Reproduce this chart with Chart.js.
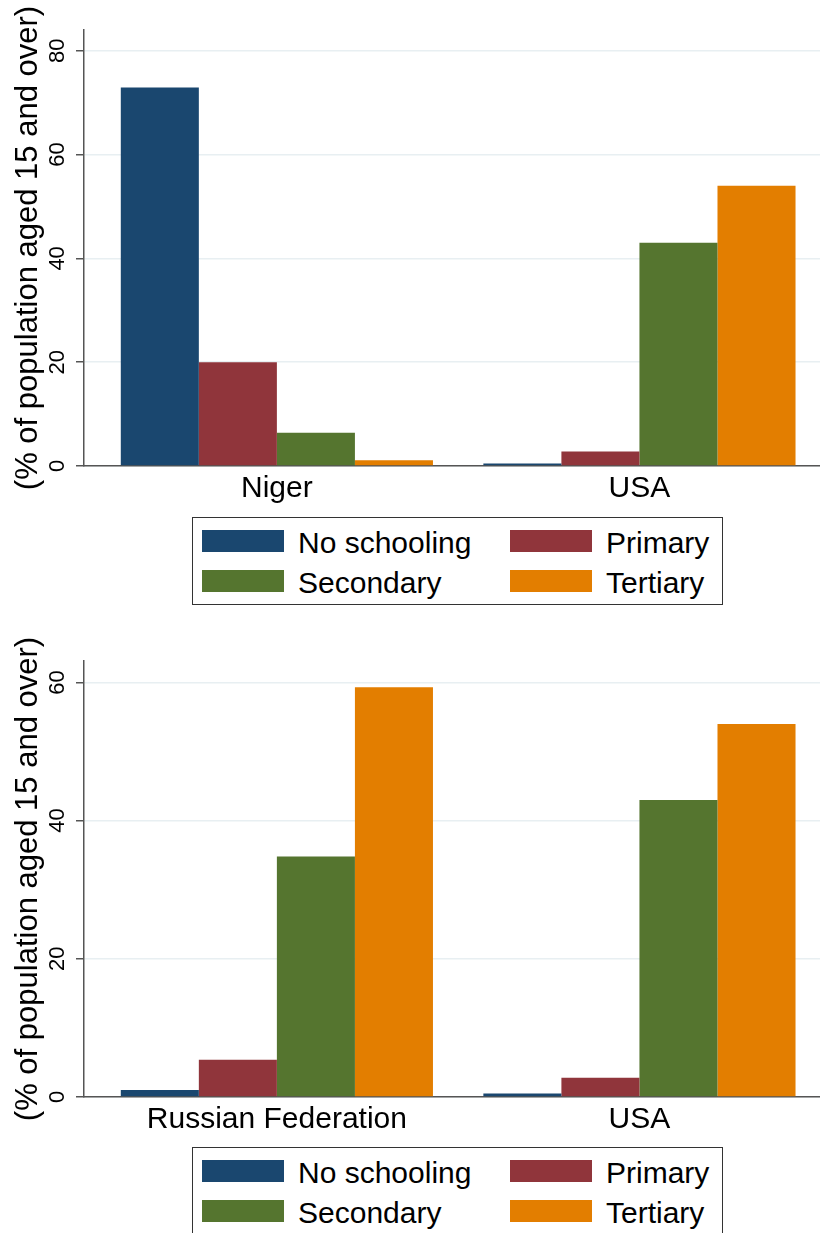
<!DOCTYPE html>
<html>
<head>
<meta charset="utf-8">
<script src="https://cdn.jsdelivr.net/npm/chart.js@4/dist/chart.umd.min.js"></script>
<style>
  html, body { margin: 0; padding: 0; background: #fff; }
  #page { position: relative; width: 820px; height: 1233px; overflow: hidden; background: #fff;
          font-family: "Liberation Sans", Arial, sans-serif; }
  .wrap { position: absolute; left: 0; width: 820px; }
  .legend { position: absolute; left: 192px; width: 531px; border: 1px solid #333; box-sizing: border-box; background: #fff; }
  .item { position: absolute; display: flex; align-items: center; font-size: 30px; color: #000; white-space: nowrap; }
  .swatch { width: 82px; height: 22px; margin-right: 14px; }
  .item span { position: relative; top: 2px; }
</style>
</head>
<body>
<div id="page">
  <div class="wrap" style="top:0;height:510px"><canvas id="top"></canvas></div>
  <div class="legend" id="legTop" style="top:517px;height:88px"></div>
  <div class="wrap" style="top:620px;height:520px"><canvas id="bottom"></canvas></div>
  <div class="legend" id="legBottom" style="top:1147px;height:88px"></div>
</div>
<script>
// Educational attainment, % of population aged 15 and over
const levels = ['No schooling', 'Primary', 'Secondary', 'Tertiary'];
const levelColors = ['#1a476f', '#90353b', '#55752f', '#e37e00'];

const countriesTop = ['Niger', 'USA'];
const noSchoolingTop = [72.9, 0.5];
const primaryTop = [20.0, 2.8];
const secondaryTop = [6.4, 43.0];
const tertiaryTop = [1.1, 54.0];
const yTicksTop = [0, 20, 40, 60, 80];

const countriesBottom = ['Russian Federation', 'USA'];
const noSchoolingBottom = [1.0, 0.5];
const primaryBottom = [5.4, 2.8];
const secondaryBottom = [34.8, 43.0];
const tertiaryBottom = [59.3, 54.0];
const yTicksBottom = [0, 20, 40, 60];

const yTitle = '(% of population aged 15 and over)';
const FONT = '"Liberation Sans", Arial, sans-serif';

// Rotated y tick labels, reading bottom to top
const rotatedTicks = {
  id: 'rotatedTicks',
  afterDraw(chart) {
    const s = chart.scales.y, ctx = chart.ctx;
    ctx.save();
    ctx.fillStyle = '#000';
    ctx.font = '22px ' + FONT;
    ctx.textAlign = 'center';
    ctx.textBaseline = 'middle';
    s.ticks.forEach(t => {
      const py = s.getPixelForValue(t.value);
      ctx.save();
      ctx.translate(58, py);
      ctx.rotate(-Math.PI / 2);
      ctx.fillText(String(t.value), 0, 0);
      ctx.restore();
    });
    ctx.restore();
  }
};

function makeChart(id, countries, series, yTicks, yMax, padTop, xHeight) {
  const datasets = series.map((vals, k) => ({
    label: levels[k],
    data: vals.map((v, i) => ({ x: i, y: v })),
    backgroundColor: levelColors[k],
    borderWidth: 0,
    categoryPercentage: 0.861,
    barPercentage: 1.0
  }));
  const canvas = document.getElementById(id);
  const h = canvas.parentNode.clientHeight;
  canvas.style.width = '820px';
  canvas.style.height = h + 'px';
  return new Chart(canvas, {
    type: 'bar',
    data: { datasets },
    plugins: [rotatedTicks],
    options: {
      responsive: false,
      maintainAspectRatio: false,
      animation: false,
      devicePixelRatio: 1,
      layout: { padding: { top: padTop, left: 0, right: 0, bottom: 0 } },
      plugins: { legend: { display: false }, tooltip: { enabled: false } },
      scales: {
        x: {
          type: 'linear',
          offset: false,
          min: -0.532,
          max: 1.498,
          afterBuildTicks: s => { s.ticks = countries.map((c, i) => ({ value: i })); },
          afterFit: s => { s.height = xHeight; },
          grid: { display: false, drawTicks: false, offset: false },
          border: { display: true, color: '#555', width: 1.5 },
          ticks: {
            color: '#000',
            font: { family: FONT, size: 30 },
            padding: 5,
            maxRotation: 0,
            autoSkip: false,
            callback: v => countries[v]
          }
        },
        y: {
          min: 0,
          max: yMax,
          afterBuildTicks: s => { s.ticks = yTicks.map(v => ({ value: v })); },
          afterFit: s => { s.width = 84; },
          grid: { color: '#e8eff2', lineWidth: 1.5, tickColor: '#555', tickLength: 8, drawTicks: true },
          border: { display: true, color: '#555', width: 1.5 },
          ticks: { display: false },
          title: {
            display: true,
            text: yTitle,
            color: '#000',
            font: { family: FONT, size: 31 },
            padding: { top: 10, bottom: 0 }
          }
        }
      }
    }
  });
}

function makeLegend(id) {
  const box = document.getElementById(id);
  const pos = [[9, 12], [317, 12], [9, 52], [317, 52]];
  levels.forEach((name, k) => {
    const it = document.createElement('div');
    it.className = 'item';
    it.style.left = pos[k][0] + 'px';
    it.style.top = (pos[k][1] - 6) + 'px';
    it.style.height = '34px';
    const sw = document.createElement('div');
    sw.className = 'swatch';
    sw.style.background = levelColors[k];
    const tx = document.createElement('span');
    tx.textContent = name;
    it.appendChild(sw);
    it.appendChild(tx);
    box.appendChild(it);
  });
}

makeChart('top', countriesTop, [noSchoolingTop, primaryTop, secondaryTop, tertiaryTop], yTicksTop, 84, 30, 44);
makeChart('bottom', countriesBottom, [noSchoolingBottom, primaryBottom, secondaryBottom, tertiaryBottom], yTicksBottom, 63.1, 41, 43);
makeLegend('legTop');
makeLegend('legBottom');
</script>
</body>
</html>
